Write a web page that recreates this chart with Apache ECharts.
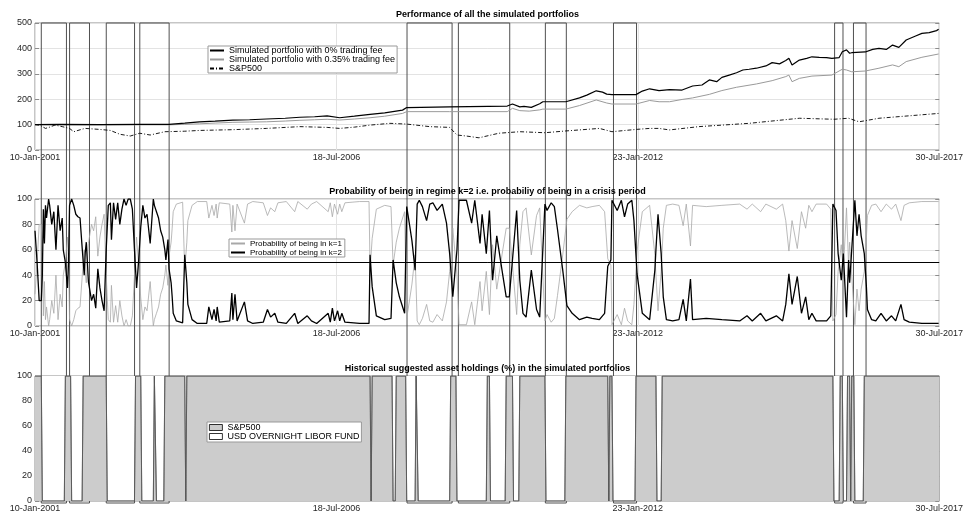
<!DOCTYPE html>
<html><head><meta charset="utf-8">
<script src="https://cdn.jsdelivr.net/npm/echarts@6/dist/echarts.min.js"></script>
<style>html,body{margin:0;padding:0;background:#fff}#c{width:966px;height:513px}</style>
</head><body><div id="c"></div><script>
// ---- data (x = week number since 10-Jan-2001) ----
const xTickLabels = ['10-Jan-2001','18-Jul-2006','23-Jan-2012','30-Jul-2017'];
const totalDays = 6045;      // 10-Jan-2001 .. 30-Jul-2017
const tickDays = 2015;
const titles = ['Performance of all the simulated portfolios',
  'Probability of being in regime k=2 i.e. probabiliy of being in a crisis period',
  'Historical suggested asset holdings (%) in the simulated portfolios'];
const perfNames = ['Simulated portfolio with 0% trading fee','Simulated portfolio with 0.35% trading fee','S&P500'];
const probNames = ['Probability of being in k=1','Probability of being in k=2'];
const holdNames = ['S&P500','USD OVERNIGHT LIBOR FUND'];

const perf0 = [[0,100],[24,101],[62,100],[100,101],[128,101],[143,106],[157,111],[172,114],[189,118],[205,119],[221,122],[239,125],[253,129],[267,131],[279,134],[291,127],[305,133],[320,140],[334,146],[351,157],[355,167],[396,170],[451,173],[456,181],[463,170],[467,172],[474,168],[482,182],[485,190],[507,190],[520,205],[527,216],[536,233],[542,228],[546,220],[551,218],[574,218],[580,232],[587,241],[596,234],[606,238],[618,236],[628,252],[637,256],[644,276],[651,269],[656,286],[663,295],[670,304],[676,315],[682,318],[689,322],[698,331],[704,344],[711,339],[717,352],[720,361],[723,335],[730,354],[737,361],[742,367],[749,365],[756,364],[761,361],[768,364],[771,387],[775,394],[778,381],[780,383],[793,386],[800,396],[806,400],[813,396],[819,413],[825,404],[832,433],[841,449],[847,459],[854,462],[861,470],[863,475]];
const perf035 = [[0,100],[24,100],[62,99],[100,99],[128,99],[143,101],[157,103],[172,106],[189,109],[205,110],[221,111],[239,114],[253,117],[267,119],[279,121],[291,118],[305,122],[320,127],[334,133],[351,144],[355,151],[396,151],[451,151],[456,164],[463,155],[472,153],[482,158],[485,161],[507,161],[520,175],[536,197],[546,185],[551,181],[574,181],[587,195],[596,190],[606,190],[618,199],[628,205],[644,219],[656,234],[670,247],[689,260],[704,273],[717,289],[720,295],[723,269],[730,282],[742,291],[761,295],[771,318],[775,315],[780,308],[793,311],[806,322],[819,335],[825,328],[832,348],[847,365],[863,378]];
const sp500 = [[0,100],[5,97],[10,85],[14,90],[19,98],[26,92],[33,85],[37,72],[45,82],[48,85],[62,81],[72,77],[81,62],[91,55],[100,66],[110,59],[124,72],[143,74],[157,77],[189,80],[221,85],[253,92],[279,89],[291,85],[305,90],[320,98],[339,105],[355,102],[377,92],[396,89],[403,59],[412,55],[424,48],[443,66],[463,72],[487,68],[507,75],[539,85],[551,72],[574,81],[587,85],[596,85],[606,79],[634,92],[682,105],[730,125],[763,121],[777,125],[787,111],[806,125],[830,133],[863,144]];
const probK2 = [[0,75],[2,50],[4,20],[6,20],[7,40],[8,92],[9,65],[10,95],[11,85],[13,100],[14,95],[16,80],[18,90],[20,60],[22,95],[24,75],[26,85],[27,60],[29,50],[31,30],[32,50],[33,95],[35,100],[37,95],[39,88],[41,86],[43,85],[45,62],[47,40],[48,58],[49,66],[51,35],[52,30],[54,20],[56,25],[58,14],[60,45],[62,30],[64,20],[66,12],[68,60],[70,95],[72,97],[73,68],[75,97],[77,84],[79,97],[81,80],[83,92],[85,100],[87,95],[89,100],[91,100],[93,92],[95,60],[97,30],[99,52],[101,78],[103,95],[105,85],[107,88],[110,65],[113,100],[114,95],[116,90],[118,85],[120,75],[122,70],[124,60],[125,52],[127,68],[128,45],[130,34],[131,23],[132,10],[135,4],[141,2.5],[143,56],[145,34],[146,17],[150,5],[155,2],[164,2],[166,15],[169,5],[171,13],[173,4],[174,15],[176,3],[186,4],[188,26],[189,5],[191,25],[193,4],[200,19],[203,4],[208,2],[218,3],[222,13],[225,7],[229,10],[232,3],[240,2],[248,10],[251,2],[260,8],[264,4],[269,2],[280,10],[282,3],[284,14],[286,4],[289,12],[291,4],[293,10],[296,3],[310,2],[319,2],[320,56],[322,31],[326,8],[334,5],[340,6],[342,52],[345,34],[348,23],[353,10],[355,94],[358,78],[360,67],[363,44],[365,96],[367,99],[370,94],[374,83],[377,96],[380,97],[384,91],[389,96],[393,81],[396,57],[399,23],[403,60],[405,99],[412,99],[417,81],[420,99],[425,65],[427,88],[431,57],[434,91],[437,36],[441,71],[446,44],[450,23],[453,23],[460,91],[463,36],[466,10],[469,7],[474,44],[479,13],[482,7],[487,96],[489,91],[493,97],[496,94],[499,76],[504,44],[508,16],[513,10],[520,5],[527,7],[532,6],[539,5],[544,10],[547,47],[550,52],[551,99],[556,91],[560,99],[563,86],[566,96],[570,99],[572,83],[575,41],[580,10],[587,5],[592,44],[593,60],[595,88],[598,57],[600,23],[603,5],[609,4],[615,5],[619,21],[622,4],[626,37],[628,5],[641,6],[656,5],[673,4],[680,8],[685,4],[693,10],[698,4],[708,8],[714,4],[717,17],[720,41],[723,17],[728,39],[732,10],[736,23],[739,5],[742,10],[746,4],[756,4],[760,8],[762,96],[765,91],[767,57],[770,36],[772,57],[775,7],[777,52],[778,34],[780,60],[783,99],[785,71],[787,88],[789,71],[792,57],[794,31],[795,13],[799,5],[803,4],[808,10],[813,4],[818,8],[822,4],[827,17],[830,5],[835,3],[847,2],[863,2]];
// weeks fully held in USD LIBOR fund (S&P500 share = 0), [first, last]
const liborPeriods = [[7,28],[35,45],[69,95],[102,113],[116,123],[144,144],[321,321],[342,344],[355,363],[366,396],[403,431],[435,449],[457,462],[488,506],[548,548],[552,573],[594,598],[763,768],[772,775],[779,779],[783,791]];
// crisis periods (boxes), [start week, end week]
const crisisPeriods = [[6,30],[33,52],[68,95],[100,128],[355,398],[404,453],[487,507],[552,574],[763,771],[781,793]];

// ---- build ----
const FONT = '"Liberation Sans", Arial, Helvetica, sans-serif';
const toDays = pts => pts.map(p => [p[0]*7, p[1]]);
const totalWeeks = totalDays/7;
const spHold = [[0,100]];
liborPeriods.forEach(([a,b]) => { spHold.push([a-1,100],[a,0],[b,0],[b+1,100]); });
spHold.push([totalWeeks,100]);
const liborHold = spHold.map(p => [p[0], 100-p[1]]);
// LIBOR band sits on top of the S&P500 band: its lower edge is 100 - LIBOR share
const liborLower = liborHold.map(p => [p[0], 100-p[1]]);
const probK1 = probK2.map(p => [p[0], 100-p[1]]);

const tops = [23,199,376], H = 127, L = 35, W = 905;
const BORDER = '#8c8c8c', GRIDC = '#e3e3e3', TXT = '#262626';
const grids = tops.map(t => ({left:L, top:t, width:W, height:H, show:true, borderColor:BORDER, borderWidth:1}));
grids.push({left:L, top:tops[0], width:W, height:tops[2]+H-tops[0], show:false});
const xAxes = [0,1,2].map(i => ({type:'value', gridIndex:i, min:0, max:totalDays, interval:tickDays,
  axisLine:{show:false}, axisTick:{show:false},
  axisLabel:{fontSize:9, color:TXT, fontFamily:FONT, margin:3, showMinLabel:true, showMaxLabel:true,
    formatter: v => xTickLabels[Math.round(v/tickDays)] || ''},
  splitLine:{show:i<2, lineStyle:{color:GRIDC, width:1}}}));
xAxes.push({type:'value', gridIndex:3, min:0, max:totalDays, show:false});
const yCfg = [[500,100],[100,20],[100,20]];
const yAxes = [0,1,2].map(i => ({type:'value', gridIndex:i, min:0, max:yCfg[i][0], interval:yCfg[i][1],
  axisLine:{show:false}, axisTick:{show:true, inside:true, length:4, lineStyle:{color:BORDER}},
  axisLabel:{fontSize:9, color:TXT, fontFamily:FONT, margin:3},
  splitLine:{show:i<2, lineStyle:{color:GRIDC, width:1}}}));
yAxes.push({type:'value', gridIndex:3, min:0, max:1, show:false});
[0,1,2].forEach(i => yAxes.push({type:'value', gridIndex:i, position:'right', min:0, max:yCfg[i][0], interval:yCfg[i][1],
  axisLine:{show:false}, axisLabel:{show:false}, splitLine:{show:false},
  axisTick:{show:true, inside:true, length:4, lineStyle:{color:BORDER}}}));

const ln = (name, data, xi, color, width, type, z) => ({name, type:'line', xAxisIndex:xi, yAxisIndex:xi, data:toDays(data),
  symbol:'none', silent:true, color, lineStyle:{color, width, type}, z: z||2});

const series = [
  ln(perfNames[0], perf0, 0, '#000', 1.2, 'solid', 4),
  ln(perfNames[1], perf035, 0, '#9a9a9a', 1, 'solid', 3),
  ln(perfNames[2], sp500, 0, '#000', 0.9, [4,2,1,2], 3),
  ln(probNames[0], probK1, 1, '#a8a8a8', 0.8, 'solid', 3),
  Object.assign(ln(probNames[1], probK2, 1, '#000', 1.3, 'solid', 4), {
    markLine:{silent:true, symbol:'none', label:{show:false}, animation:false,
      lineStyle:{color:'#000', width:1, type:'solid'}, data:[{yAxis:50}]}}),
  Object.assign(ln(holdNames[0], spHold, 2, '#555', 0.8, 'solid', 3), {areaStyle:{color:'#cccccc', opacity:1, origin:'start'}}),
  Object.assign(ln(holdNames[1], liborLower, 2, '#555', 0.8, 'solid', 3), {areaStyle:{color:'#ffffff', opacity:1, origin:'end'}}),
  {type:'line', xAxisIndex:3, yAxisIndex:3, data:[[0,0.5]], symbol:'none', silent:true, lineStyle:{opacity:0}, z:20,
    markArea:{silent:true, animation:false, itemStyle:{color:'rgba(0,0,0,0)', borderColor:'#505050', borderWidth:1},
      data: crisisPeriods.map(([a,b]) => [{xAxis:a*7},{xAxis:b*7}])}}
];

const legBase = {orient:'vertical', itemGap:0, selectedMode:false, borderColor:'#999', borderWidth:1, backgroundColor:'#fff'};
const legends = [
  Object.assign({}, legBase, {data:perfNames, left:208, top:46, itemWidth:14, itemHeight:9, padding:[0,2,0,1],
    itemStyle:{opacity:0}, textStyle:{fontSize:9, lineHeight:9, color:'#000', fontFamily:FONT}}),
  Object.assign({}, legBase, {data:probNames, left:229, top:239, itemWidth:14, itemHeight:9, padding:[0,3,0,1],
    itemStyle:{opacity:0}, textStyle:{fontSize:8, lineHeight:9, color:'#000', fontFamily:FONT}}),
  Object.assign({}, legBase, {left:207, top:422, itemWidth:13, itemHeight:6, padding:[1,2,1,2],
    data: holdNames.map((n,i) => ({name:n, icon:'rect', itemStyle:{color:i===0?'#cccccc':'#ffffff', borderColor:'#000', borderWidth:0.8, borderType:'solid', opacity:1}})),
    textStyle:{fontSize:9, lineHeight:9, color:'#000', fontFamily:FONT}})
];
const titleTops = [10, 187.5, 364.5];
const titleOpts = titles.map((t,i) => ({text:t, left:L+W/2, top:titleTops[i], textAlign:'center', padding:0,
  textStyle:{fontSize:9, fontWeight:'bold', color:'#000', fontFamily:FONT}}));

const chart = echarts.init(document.getElementById('c'));
chart.setOption({animation:false, backgroundColor:'#fff', title:titleOpts, legend:legends,
  grid:grids, xAxis:xAxes, yAxis:yAxes, series});
</script></body></html>
